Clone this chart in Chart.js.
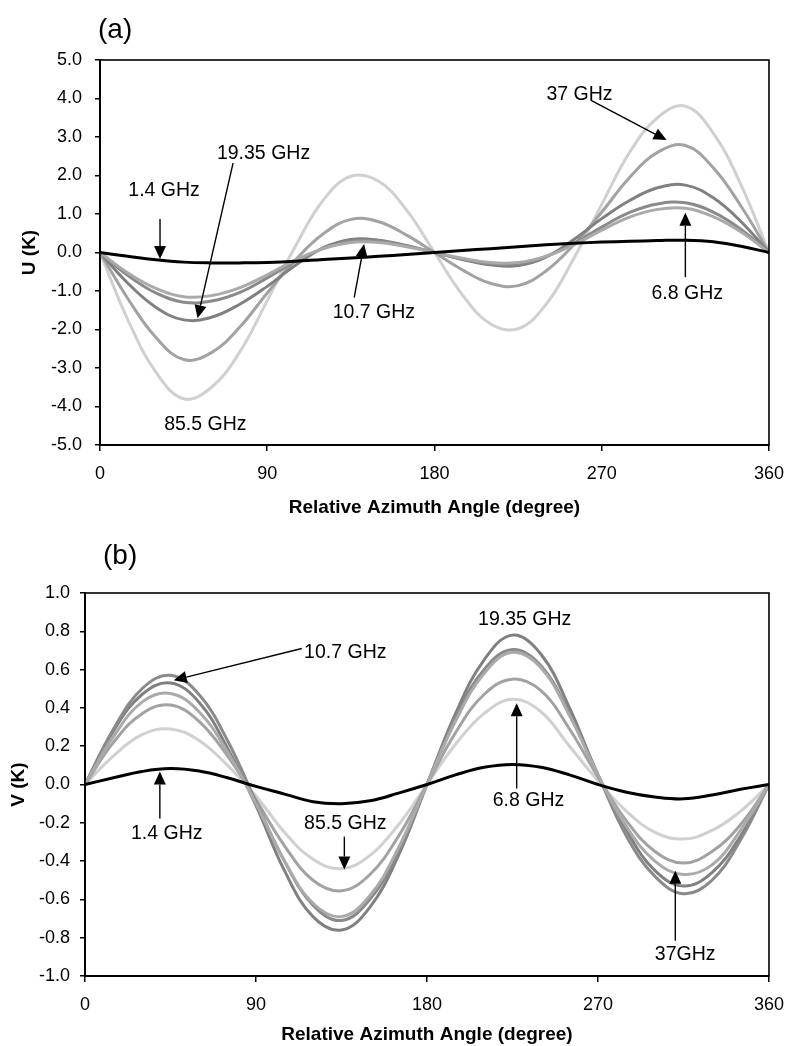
<!DOCTYPE html>
<html><head><meta charset="utf-8">
<script src="https://cdn.jsdelivr.net/npm/chart.js@4.4.1/dist/chart.umd.min.js"></script>
<style>
html,body{margin:0;padding:0;background:#fff;}
#wa{position:absolute;left:0;top:0;width:796px;height:530px;}
#wb{position:absolute;left:0;top:530px;width:796px;height:516px;}
</style></head><body>
<div id="wa"><canvas id="ca"></canvas></div>
<div id="wb"><canvas id="cb"></canvas></div>
<script>
// ---- data ----
const angles = [0,15,30,45,60,75,90,105,120,135,150,165,180,195,210,225,240,255,270,285,300,315,330,345,360];
const seriesNames = ['1.4 GHz','6.8 GHz','10.7 GHz','19.35 GHz','37 GHz','85.5 GHz'];
const xTicks = [0,90,180,270,360];

// panel (a): U (K)
const u14   = [0,-0.10,-0.19,-0.25,-0.27,-0.27,-0.26,-0.23,-0.18,-0.14,-0.10,-0.05,0,0.05,0.10,0.15,0.20,0.24,0.27,0.29,0.31,0.32,0.28,0.16,0];
const u68   = [0,-0.53,-0.93,-1.15,-1.12,-0.92,-0.58,-0.20,0.10,0.26,0.26,0.15,0,-0.15,-0.26,-0.26,-0.10,0.20,0.58,0.92,1.12,1.15,0.93,0.53,0];
const u107  = [0,-0.60,-1.05,-1.29,-1.26,-1.04,-0.66,-0.24,0.10,0.29,0.29,0.17,0,-0.17,-0.29,-0.29,-0.10,0.24,0.66,1.04,1.26,1.29,1.05,0.60,0];
const u1935 = [0,-0.80,-1.42,-1.75,-1.68,-1.35,-0.88,-0.34,0.12,0.34,0.32,0.18,0,-0.18,-0.32,-0.34,-0.12,0.34,0.88,1.35,1.68,1.75,1.42,0.80,0];
const u37   = [0,-1.20,-2.20,-2.78,-2.60,-1.95,-1.05,-0.20,0.48,0.86,0.80,0.45,0,-0.45,-0.80,-0.86,-0.48,0.20,1.05,1.95,2.60,2.78,2.20,1.20,0];
const u855  = [0,-1.75,-3.10,-3.80,-3.50,-2.60,-1.25,0.15,1.35,1.98,1.85,1.10,0,-1.10,-1.85,-1.98,-1.35,-0.15,1.25,2.60,3.50,3.80,3.10,1.75,0];
const uTicks = [-5,-4,-3,-2,-1,0,1,2,3,4,5];

// panel (b): V (K)
const v14   = [0,0.035,0.068,0.083,0.07,0.035,-0.01,-0.05,-0.09,-0.10,-0.085,-0.045,0,0.05,0.09,0.105,0.09,0.05,0.0,-0.04,-0.065,-0.075,-0.055,-0.025,0];
const v68   = [0,0.25,0.43,0.475,0.38,0.17,-0.10,-0.40,-0.62,-0.69,-0.58,-0.33,0,0.33,0.58,0.69,0.61,0.36,0.05,-0.22,-0.40,-0.47,-0.42,-0.24,0];
const v107  = [0,0.29,0.50,0.57,0.47,0.23,-0.09,-0.40,-0.63,-0.71,-0.60,-0.35,0,0.35,0.60,0.705,0.62,0.37,0.05,-0.27,-0.48,-0.57,-0.50,-0.29,0];
const v1935 = [0,0.28,0.47,0.53,0.43,0.19,-0.11,-0.45,-0.69,-0.76,-0.64,-0.37,0,0.37,0.65,0.78,0.68,0.40,0.05,-0.24,-0.45,-0.53,-0.46,-0.27,0];
const v37   = [0,0.22,0.37,0.415,0.33,0.15,-0.08,-0.32,-0.50,-0.555,-0.47,-0.27,0,0.27,0.47,0.55,0.49,0.29,0.04,-0.19,-0.35,-0.41,-0.35,-0.21,0];
const v855  = [0,0.15,0.26,0.29,0.23,0.10,-0.06,-0.25,-0.39,-0.44,-0.37,-0.21,0,0.21,0.37,0.445,0.38,0.20,0.02,-0.14,-0.25,-0.285,-0.24,-0.14,0];
const vTicks = [-1,-0.8,-0.6,-0.4,-0.2,0,0.2,0.4,0.6,0.8,1];

// annotation labels: text centre and arrows [fromX, fromY, toX, toY] in data units
const notesA = [
  {text:'1.4 GHz',   at:[34.5, 1.62],  arrow:[32.3, 0.87, 32.3, -0.17]},
  {text:'19.35 GHz', at:[88, 2.57],    arrow:[71.6, 2.32, 52.5, -1.71]},
  {text:'37 GHz',    at:[258, 4.11],   arrow:[264, 3.96, 304.9, 2.92]},
  {text:'10.7 GHz',  at:[147.4, -1.55],arrow:[136.8, -1.17, 142.1, 0.22]},
  {text:'6.8 GHz',   at:[316, -1.06],  arrow:[315, -0.64, 315, 1.03]},
  {text:'85.5 GHz',  at:[56.7, -4.48]}
];
const notesB = [
  {text:'10.7 GHz',  at:[137, 0.69],   arrow:[114.1, 0.71, 46.7, 0.544]},
  {text:'1.4 GHz',   at:[43, -0.256],  arrow:[39.4, -0.178, 39.4, 0.068]},
  {text:'85.5 GHz',  at:[137, -0.204], arrow:[136.5, -0.272, 136.5, -0.444]},
  {text:'19.35 GHz', at:[231.4, 0.863]},
  {text:'6.8 GHz',   at:[233.4, -0.084],arrow:[227.2, -0.021, 227.2, 0.424]},
  {text:'37GHz',     at:[315.9, -0.889],arrow:[310.7, -0.816, 310.7, -0.45]}
];

// ---- styling ----
const FONT = '"Liberation Sans", Arial, Helvetica, sans-serif';
Chart.defaults.font.family = FONT;
Chart.defaults.color = '#000';
const colors = ['#000000','#aaaaaa','#8a8a8a','#808080','#a2a2a2','#d0d0d0'];
const widths = [3,3,3,3,3,3];

function arrow(ctx,x1,y1,x2,y2){
  const ang = Math.atan2(y2-y1,x2-x1), L=13, W=6;
  const bx = x2 - L*Math.cos(ang), by = y2 - L*Math.sin(ang);
  ctx.beginPath(); ctx.moveTo(x1,y1); ctx.lineTo(bx,by); ctx.lineWidth=1.4; ctx.stroke();
  ctx.beginPath(); ctx.moveTo(x2,y2);
  ctx.lineTo(bx + W*Math.sin(ang), by - W*Math.cos(ang));
  ctx.lineTo(bx - W*Math.sin(ang), by + W*Math.cos(ang));
  ctx.closePath(); ctx.fill();
}

const deco = {
  id:'deco',
  afterDraw(chart, args, o){
    const {ctx, chartArea:a} = chart;
    const x = chart.scales.x, y = chart.scales.y;
    ctx.save();
    ctx.strokeStyle='#000'; ctx.fillStyle='#000'; ctx.lineWidth=1.6;
    ctx.strokeRect(a.left, a.top, a.right-a.left, a.bottom-a.top);
    ctx.font = '28px ' + FONT; ctx.textAlign='left'; ctx.textBaseline='middle';
    ctx.fillText(o.panel, a.left + o.panelDx, a.top + o.panelDy);
    ctx.font = '19.5px ' + FONT; ctx.textAlign='center';
    for (const n of o.notes){
      ctx.fillText(n.text, x.getPixelForValue(n.at[0]), y.getPixelForValue(n.at[1]));
      if (n.arrow){
        arrow(ctx, x.getPixelForValue(n.arrow[0]), y.getPixelForValue(n.arrow[1]),
                   x.getPixelForValue(n.arrow[2]), y.getPixelForValue(n.arrow[3]));
      }
    }
    ctx.restore();
  }
};

function makeChart(id, series, yTickVals, yTitle, c){
  const datasets = series.map((arr,i)=>({
    label: seriesNames[i],
    data: angles.map((a,k)=>({x:a, y:arr[k]})),
    borderColor: colors[i], borderWidth: widths[i],
    pointRadius: 0, fill: false,
    tension: 0.4
  }));
  return new Chart(document.getElementById(id), {
    type: 'line',
    data: { datasets },
    plugins: [deco],
    options: {
      responsive: true, maintainAspectRatio: false, animation: false,
      layout: { padding: { left: 0, right: 17, top: c.top, bottom: 0 } },
      plugins: { legend: {display:false}, tooltip:{enabled:false},
        deco: { panel: c.panel, panelDx: c.panelDx, panelDy: c.panelDy, notes: c.notes } },
      scales: {
        x: {
          type: 'linear', min: 0, max: 360,
          afterBuildTicks: s => { s.ticks = xTicks.map(v=>({value:v})); },
          afterFit: s => { s.height = c.xH; },
          ticks: { font:{size:18}, color:'#000', padding: 12, callback: v => String(v) },
          grid: { display:true, drawOnChartArea:false, drawTicks:true, tickLength:6, color:'#000', lineWidth:1.5 },
          border: { display:true, color:'#000', width:2 },
          title: { display:true, text:'Relative Azimuth Angle (degree)', color:'#000',
                   font:{size:19, weight:'bold'}, padding:{top:0, bottom:c.xTitlePB} }
        },
        y: {
          type: 'linear', min: yTickVals[0], max: yTickVals[yTickVals.length-1],
          afterBuildTicks: s => { s.ticks = yTickVals.map(v=>({value:v})); },
          afterFit: s => { s.width = c.yW; },
          ticks: { font:{size:18}, color:'#000', padding: c.yTickPad,
                   callback: v => (Math.abs(v)<1e-9 ? 0 : v).toFixed(1) },
          grid: { display:true, drawOnChartArea:false, drawTicks:true, tickLength:5, color:'#000', lineWidth:1.5 },
          border: { display:true, color:'#000', width:2 },
          title: { display:true, text:yTitle, color:'#000',
                   font:{size:19, weight:'bold'}, padding:{top:c.yTitlePT, bottom:0} }
        }
      }
    }
  });
}

makeChart('ca', [u14,u68,u107,u1935,u37,u855], uTicks, 'U (K)',
  {top:60, xH:85, xTitlePB:11, yW:100, yTickPad:13, yTitlePT:18,
   panel:'(a)', panelDx:-2, panelDy:-30, notes:notesA});
makeChart('cb', [v14,v68,v107,v1935,v37,v855], vTicks, 'V (K)',
  {top:63, xH:70, xTitlePB:0, yW:85, yTickPad:10, yTitlePT:7,
   panel:'(b)', panelDx:18, panelDy:-37, notes:notesB});
</script>
</body></html>
